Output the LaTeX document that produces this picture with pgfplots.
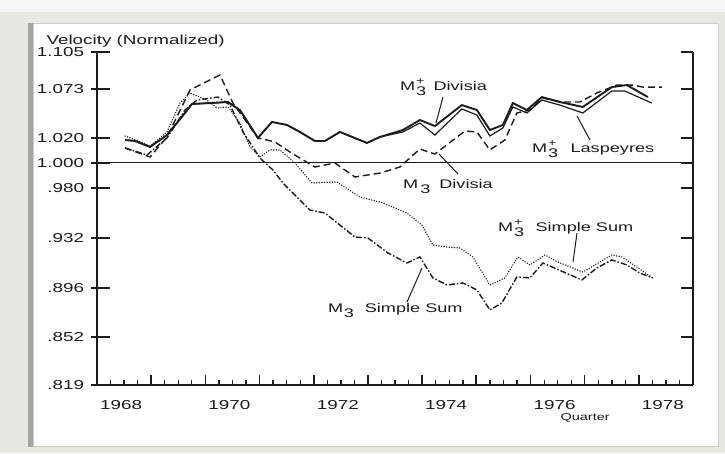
\documentclass[border=0pt]{standalone}
\usepackage{fontspec}
\setmainfont{Liberation Sans}[FakeStretch=1.45]
\usepackage{pgfplots}
\usepackage{pgfplotstable}
\pgfplotsset{compat=1.18}
\definecolor{ink}{RGB}{28,28,28}
\definecolor{bgouter}{RGB}{232,232,226}
\definecolor{bgtop}{RGB}{246,246,244}
\definecolor{leftbar}{RGB}{165,165,160}
\definecolor{panelline}{RGB}{205,205,200}
\newcommand{\Mp}{M\kern0.8pt\rlap{\raisebox{-5pt}{3}}\raisebox{6pt}{\fontsize{10}{10}\selectfont +}}
\newcommand{\Ms}[1]{M\kern#1\raisebox{-5pt}{3}}

\pgfplotstableread{
x y
1968.517 1.0209
1968.701 1.0200
1968.978 1.0145
1969.292 1.0255
1969.624 1.0460
1969.753 1.0545
1970.085 1.0554
1970.417 1.0564
1970.638 1.0488
1970.970 1.0228
1971.229 1.0376
1971.506 1.0348
1971.745 1.0283
1972.022 1.0200
1972.207 1.0200
1972.483 1.0283
1972.982 1.0182
1973.221 1.0237
1973.646 1.0301
1973.959 1.0394
1974.236 1.0338
1974.734 1.0535
1975.011 1.0488
1975.251 1.0301
1975.491 1.0348
1975.675 1.0554
1975.934 1.0488
1976.210 1.0611
1976.542 1.0564
1976.967 1.0517
1977.502 1.0707
1977.779 1.0726
1978.166 1.0611
}\divplus

\pgfplotstableread{
x y
1968.517 1.0209
1968.701 1.0200
1968.978 1.0145
1969.292 1.0255
1969.624 1.0460
1969.753 1.0545
1970.085 1.0554
1970.417 1.0564
1970.638 1.0488
1970.970 1.0228
1971.229 1.0376
1971.506 1.0348
1971.745 1.0283
1972.022 1.0200
1972.207 1.0200
1972.483 1.0283
1972.982 1.0182
1973.221 1.0237
1973.646 1.0283
1973.959 1.0366
1974.236 1.0255
1974.734 1.0498
1975.011 1.0441
1975.251 1.0246
1975.491 1.0320
1975.675 1.0517
1975.934 1.0460
1976.210 1.0583
1976.542 1.0535
1976.967 1.0460
1977.502 1.0669
1977.742 1.0669
1978.240 1.0554
}\lasp

\pgfplotstableread{
x y
1968.517 1.0136
1968.978 1.0054
1969.292 1.0237
1969.716 1.0679
1970.269 1.0824
1970.509 1.0554
1970.970 1.0228
1971.284 1.0191
1971.561 1.0099
1972.022 0.9964
1972.391 1.0000
1972.760 0.9875
1973.221 0.9910
1973.590 0.9964
1973.959 1.0127
1974.236 1.0081
1974.790 1.0292
1975.011 1.0283
1975.251 1.0118
1975.528 1.0209
1975.749 1.0460
1975.989 1.0488
1976.229 1.0602
1976.579 1.0564
1976.911 1.0564
1977.225 1.0650
1977.594 1.0726
1977.889 1.0726
1978.074 1.0707
1978.424 1.0707
}\divthree

\pgfplotstableread{
x y
1968.517 1.0246
1968.849 1.0182
1968.978 1.0154
1969.292 1.0283
1969.531 1.0554
1969.716 1.0650
1970.030 1.0583
1970.214 1.0507
1970.417 1.0517
1970.638 1.0366
1970.823 1.0145
1971.007 1.0054
1971.192 1.0118
1971.376 1.0118
1971.653 1.0000
1971.967 0.9822
1972.428 0.9831
1972.852 0.9699
1973.277 0.9647
1973.720 0.9560
1973.996 0.9458
1974.199 0.9289
1974.458 0.9272
1974.697 0.9264
1974.937 0.9190
1975.251 0.8961
1975.528 0.9018
1975.768 0.9190
1975.989 0.9124
1976.266 0.9206
1976.506 0.9148
1976.967 0.9066
1977.502 0.9206
1977.686 0.9190
1978.258 0.9018
}\ssplus

\pgfplotstableread{
x y
1968.517 1.0136
1968.923 1.0072
1969.292 1.0228
1969.624 1.0488
1969.845 1.0583
1970.232 1.0611
1970.454 1.0535
1970.694 1.0283
1971.007 1.0045
1971.247 0.9937
1971.432 0.9822
1971.930 0.9586
1972.207 0.9560
1972.760 0.9356
1973.000 0.9348
1973.369 0.9223
1973.720 0.9140
1973.959 0.9190
1974.199 0.9018
1974.458 0.8961
1974.753 0.8977
1975.011 0.8921
1975.251 0.8762
1975.472 0.8817
1975.749 0.9026
1975.989 0.9018
1976.229 0.9140
1976.948 0.9002
1977.225 0.9099
1977.502 0.9165
1977.779 0.9124
1978.018 0.9058
1978.258 0.9018
}\ssthree

\begin{document}
\begin{tikzpicture}
\begin{scope}[x=1pt,y=-1pt]
\path[use as bounding box] (0,0) rectangle (725,453);
\fill[bgouter] (0,0) rectangle (725,453);
\fill[bgtop] (0,0) rectangle (725,12);
\fill[white] (33,23) rectangle (718,446);
\draw[panelline, line width=1pt] (33,23) rectangle (718,446);
\fill[leftbar] (28,23) rectangle (33,447);
\end{scope}

% data axis, with the quarter and year ticks of the bottom axis
\begin{axis}[
  at={(97pt,-385pt)}, anchor=south west, scale only axis,
  width=596pt, height=333pt,
  xmin=1968, xmax=1979, ymode=log, ymin=0.819, ymax=1.105,
  axis line style={ink, line width=1.2pt},
  axis x line*=bottom, axis y line=none,
  ytick=\empty,
  xtick={1968,1969,...,1979}, xticklabel=\empty,
  minor xtick={1968.25,1968.5,...,1978.75},
  xtick pos=left,
  tick align=inside,
  major tick length=10pt, minor tick length=5pt,
  major tick style={ink, line width=1.6pt},
  minor tick style={ink, line width=1.3pt},
]
\addplot[ink, line width=1pt] coordinates {(1968,1) (1979,1)};
\addplot[ink, line width=1.4pt, dash pattern=on 6pt off 2pt on 1.5pt off 2pt] table[x=x,y=y] {\ssthree};
\addplot[ink, line width=1.5pt, line cap=round, dash pattern=on 0.1pt off 2.5pt] table[x=x,y=y] {\ssplus};
\addplot[ink, line width=1.4pt, dash pattern=on 7pt off 4pt] table[x=x,y=y] {\divthree};
\addplot[ink, line width=1.2pt] table[x=x,y=y] {\lasp};
\addplot[ink, line width=1.9pt] table[x=x,y=y] {\divplus};
\end{axis}

% left y ticks and year labels
\begin{axis}[
  at={(97pt,-385pt)}, anchor=south west, scale only axis,
  width=596pt, height=333pt,
  xmin=1968, xmax=1979, ymode=log, ymin=0.819, ymax=1.105,
  axis line style={ink, line width=1.2pt},
  tick style={ink, line width=1.2pt},
  ticklabel style={font=\fontsize{13}{15}\selectfont, text=ink},
  axis x line*=bottom, axis y line*=left,
  ytick={1.105,1.0688,1.0228,1,0.9778,0.9348,0.8937,0.8551,0.819},
  yticklabels={1.105,1.073,1.020,1.000,.980,.932,.896,.852,.819},
  tick align=center, major tick length=19pt,
  major y tick style={xshift=3.5pt},
  xtick={1968.5,1970.5,1972.5,1974.5,1976.5,1978.5},
  xticklabels={1968,1970,1972,1974,1976,1978},
  major x tick style={draw=none},
  xticklabel style={yshift=-3pt, xshift=-3pt},
]
\addplot[draw=none] coordinates {(1968,1) (1979,1)};
\end{axis}

% right spine
\begin{axis}[
  at={(97pt,-385pt)}, anchor=south west, scale only axis,
  width=596pt, height=333pt,
  xmin=1968, xmax=1979, ymode=log, ymin=0.819, ymax=1.105,
  axis line style={ink, line width=1.2pt},
  tick style={ink, line width=1.2pt},
  axis x line=none, axis y line*=right,
  ytick={1.105,1.0688,1.0228,1,0.9778,0.9348,0.8937,0.8551,0.819},
  yticklabels={},
  tick align=inside, major tick length=12pt,
]
\addplot[draw=none] coordinates {(1968,1) (1979,1)};
\end{axis}

\begin{scope}[x=1pt,y=-1pt, font=\fontsize{12.5}{14}\selectfont, text=ink]
\node[anchor=base west, font=\fontsize{13}{15}\selectfont] at (43,44.5) {Velocity (Normalized)};
\node[anchor=base west, font=\fontsize{10}{12}\selectfont] at (557,420) {Quarter};
\node[anchor=base west, inner sep=0pt] at (400,90.5) {\Mp\hspace{9pt}Divisia};
\node[anchor=base west, inner sep=0pt] at (532,152.5) {\Mp\hspace{14pt}Laspeyres};
\node[anchor=base west, inner sep=0pt] at (403,188) {\Ms{2pt}\hspace{9pt}Divisia};
\node[anchor=base west, inner sep=0pt] at (498,231) {\Mp\hspace{13pt}Simple Sum};
\node[anchor=base west, inner sep=0pt] at (328,312.5) {\Ms{0.5pt}\hspace{11pt}Simple Sum};
\draw[ink, line width=1pt] (443,97) -- (436,123);
\draw[ink, line width=1pt] (590,140) -- (577,116);
\draw[ink, line width=1pt] (458,174) -- (439,154);
\draw[ink, line width=1pt] (577,233) -- (573,262);
\draw[ink, line width=1pt] (407,302) -- (422,268);
\end{scope}
\end{tikzpicture}
\end{document}
